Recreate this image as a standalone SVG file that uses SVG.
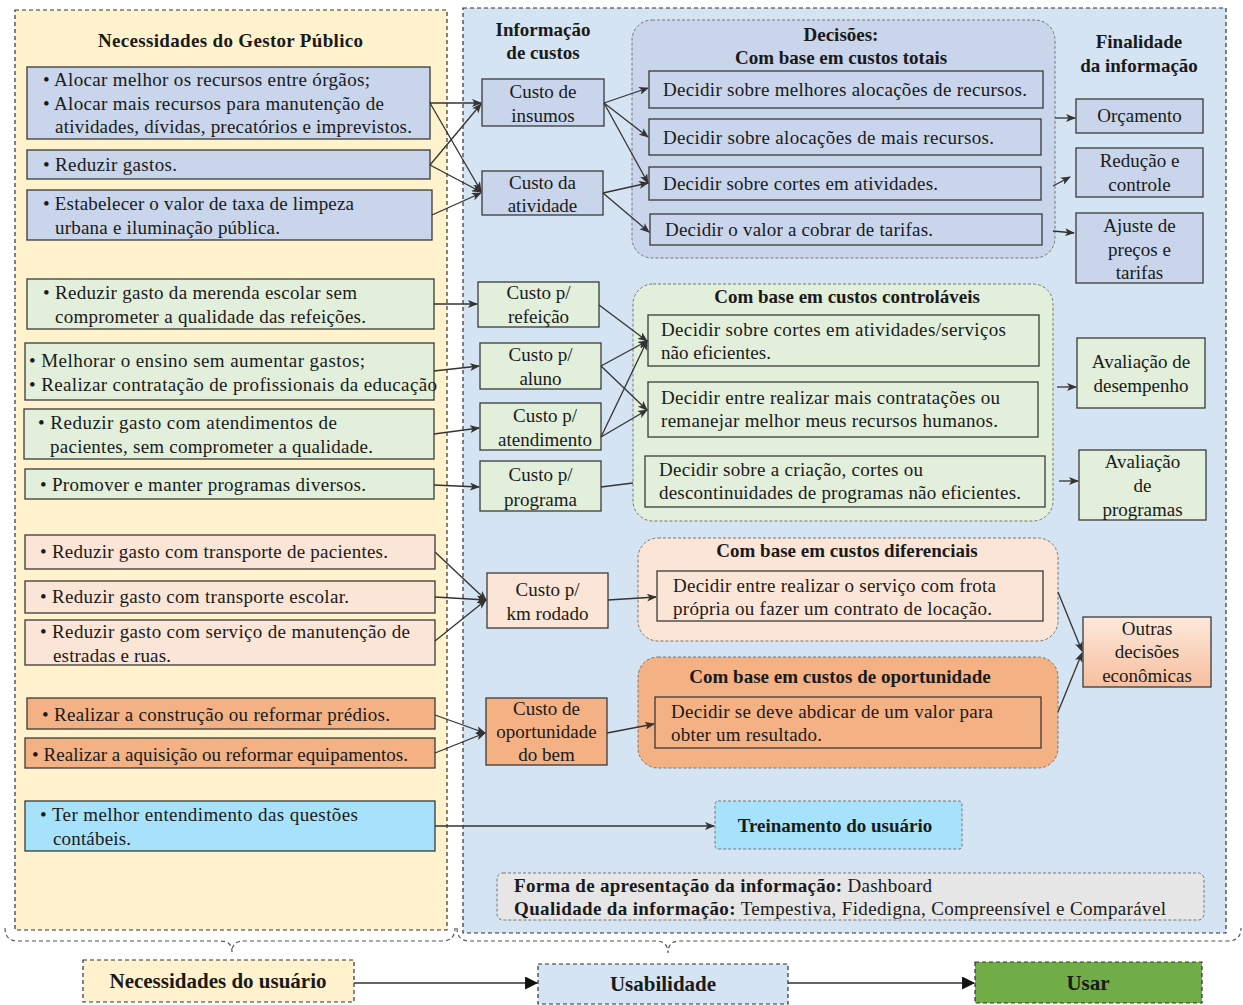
<svg xmlns="http://www.w3.org/2000/svg" width="1243" height="1005" viewBox="0 0 1243 1005">
  <defs>
    <marker id="arr" viewBox="0 0 10 8" refX="9" refY="4" markerWidth="10" markerHeight="8" markerUnits="userSpaceOnUse" orient="auto">
      <path d="M0,0 L10,4 L0,8 L2.5,4 z" fill="#333"/>
    </marker>
    <marker id="arrBig" viewBox="0 0 12 12" refX="11" refY="6" markerWidth="13" markerHeight="13" markerUnits="userSpaceOnUse" orient="auto">
      <path d="M0,0 L12,6 L0,12 z" fill="#111"/>
    </marker>
    <linearGradient id="peachGrad" x1="0" y1="0" x2="0" y2="1">
      <stop offset="0" stop-color="#fde9dc"/>
      <stop offset="1" stop-color="#f6bf9e"/>
    </linearGradient>
  </defs>
  <style>
    text { font-family: "Liberation Serif", "Times New Roman", serif; font-size: 19px; fill: #1a1a1a; }
    .b { font-weight: bold; }
    .c { text-anchor: middle; }
    .big { font-size: 21px; font-weight: bold; }
    .box { stroke: #3a3a3a; stroke-width: 1.3; }
    .blue { fill: #c8d5ea; }
    .green { fill: #e2efda; }
    .peach { fill: #fbe5d6; }
    .orange { fill: #f4b183; }
    .cyan { fill: #a6e3fa; }
    .grp { stroke: #777; stroke-width: 1; stroke-dasharray: 3 2; }
    .panel { stroke: #333; stroke-width: 1.2; stroke-dasharray: 4 3; }
    .ln { fill: none; stroke: #333; stroke-width: 1.3; }
    .brace { fill: none; stroke: #555; stroke-width: 1.2; stroke-dasharray: 4 3; }
  </style>

  <!-- Panels -->
  <g id="panel-necessidades">
    <rect x="15" y="10" width="432" height="920" fill="#fff2cc" class="panel"/>
    <text x="98" y="47" class="b" textLength="265">Necessidades do Gestor Público</text>
  </g>
  <g id="panel-usabilidade">
    <rect x="463" y="8" width="763" height="925" fill="#d5e4f2" class="panel"/>
    <text x="543" y="36" class="b c">Informação</text>
    <text x="543" y="59" class="b c">de custos</text>
    <text x="1139" y="48" class="b c">Finalidade</text>
    <text x="1139" y="72" class="b c">da informação</text>
  </g>

  <!-- User needs -->
  <g id="need-alocar">
    <rect x="27" y="67" width="403" height="72" class="box blue"/>
    <text x="43" y="86" textLength="327">• Alocar melhor os recursos entre órgãos;</text>
    <text x="43" y="110" textLength="341">• Alocar mais recursos para manutenção de</text>
    <text x="55" y="133" textLength="357">atividades, dívidas, precatórios e imprevistos.</text>
  </g>
  <g id="need-reduzir">
    <rect x="27" y="150" width="403" height="29" class="box blue"/>
    <text x="43" y="171" textLength="134">• Reduzir gastos.</text>
  </g>
  <g id="need-taxa">
    <rect x="27" y="190" width="405" height="50" class="box blue"/>
    <text x="43" y="210" textLength="311">• Estabelecer o valor de taxa de limpeza</text>
    <text x="55" y="234" textLength="225">urbana e iluminação pública.</text>
  </g>
  <g id="need-merenda">
    <rect x="27" y="279" width="407" height="50" class="box green"/>
    <text x="43" y="299" textLength="314">• Reduzir gasto da merenda escolar sem</text>
    <text x="55" y="323" textLength="311">comprometer a qualidade das refeições.</text>
  </g>
  <g id="need-ensino">
    <rect x="25" y="343" width="409" height="57" class="box green"/>
    <text x="29" y="367" textLength="336">• Melhorar o ensino sem aumentar gastos;</text>
    <text x="29" y="391" textLength="408">• Realizar contratação de profissionais da educação</text>
  </g>
  <g id="need-atendimento">
    <rect x="24" y="409" width="410" height="50" class="box green"/>
    <text x="38" y="429" textLength="299">•  Reduzir gasto com atendimentos de</text>
    <text x="50" y="453" textLength="323">pacientes, sem comprometer a qualidade.</text>
  </g>
  <g id="need-programas">
    <rect x="25" y="469" width="409" height="30" class="box green"/>
    <text x="40" y="491" textLength="326">• Promover e manter programas diversos.</text>
  </g>
  <g id="need-transp-pacientes">
    <rect x="25" y="535" width="410" height="34" class="box peach"/>
    <text x="40" y="558" textLength="348">• Reduzir gasto com transporte de pacientes.</text>
  </g>
  <g id="need-transp-escolar">
    <rect x="25" y="581" width="410" height="32" class="box peach"/>
    <text x="40" y="603" textLength="309">• Reduzir gasto com transporte escolar.</text>
  </g>
  <g id="need-estradas">
    <rect x="25" y="620" width="410" height="45" class="box peach"/>
    <text x="40" y="638" textLength="370">• Reduzir gasto com serviço de manutenção de</text>
    <text x="53" y="662" textLength="118">estradas e ruas.</text>
  </g>
  <g id="need-predios">
    <rect x="27" y="698" width="408" height="31" class="box orange"/>
    <text x="42" y="721" textLength="348">• Realizar  a construção ou reformar prédios.</text>
  </g>
  <g id="need-equipamentos">
    <rect x="25" y="738" width="410" height="30" class="box orange"/>
    <text x="32" y="761" textLength="376">• Realizar  a aquisição ou reformar equipamentos.</text>
  </g>
  <g id="need-contabeis">
    <rect x="25" y="801" width="410" height="50" class="box cyan"/>
    <text x="40" y="821" textLength="318">• Ter melhor entendimento das questões</text>
    <text x="53" y="845" textLength="78">contábeis.</text>
  </g>

  <!-- Cost information -->
  <g id="cost-insumos">
    <rect x="482" y="79" width="122" height="47" class="box blue"/>
    <text x="543" y="98" class="c">Custo de</text>
    <text x="543" y="122" class="c">insumos</text>
  </g>
  <g id="cost-atividade">
    <rect x="482" y="171" width="121" height="44" class="box blue"/>
    <text x="542.5" y="189" class="c">Custo da</text>
    <text x="542.5" y="212" class="c">atividade</text>
  </g>
  <g id="cost-refeicao">
    <rect x="478" y="282" width="121" height="45" class="box green"/>
    <text x="538.5" y="299" class="c">Custo p/</text>
    <text x="538.5" y="323" class="c">refeição</text>
  </g>
  <g id="cost-aluno">
    <rect x="480" y="343" width="121" height="46" class="box green"/>
    <text x="540.5" y="361" class="c">Custo p/</text>
    <text x="540.5" y="385" class="c">aluno</text>
  </g>
  <g id="cost-atendimento">
    <rect x="480" y="403" width="121" height="47" class="box green"/>
    <text x="545" y="422" class="c">Custo p/</text>
    <text x="545" y="446" class="c">atendimento</text>
  </g>
  <g id="cost-programa">
    <rect x="480" y="461" width="121" height="50" class="box green"/>
    <text x="540.5" y="481" class="c">Custo p/</text>
    <text x="540.5" y="506" class="c">programa</text>
  </g>
  <g id="cost-km">
    <rect x="487" y="573" width="121" height="55" class="box peach"/>
    <text x="547.5" y="596" class="c">Custo p/</text>
    <text x="547.5" y="620" class="c">km rodado</text>
  </g>
  <g id="cost-oportunidade">
    <rect x="486" y="698" width="121" height="67" class="box orange"/>
    <text x="546.5" y="715" class="c">Custo de</text>
    <text x="546.5" y="738" class="c">oportunidade</text>
    <text x="546.5" y="761" class="c">do bem</text>
  </g>

  <!-- Decisions: total costs -->
  <g id="dec-totais">
    <rect x="632" y="20" width="423" height="238" rx="20" fill="#c8d5ea" class="grp"/>
    <text x="841" y="41" class="b c">Decisões:</text>
    <text x="841" y="64" class="b c">Com base em custos totais</text>
    <rect x="649" y="71" width="394" height="37" class="box blue"/>
    <text x="663" y="96" textLength="364">Decidir  sobre melhores alocações de recursos.</text>
    <rect x="649" y="119" width="392" height="36" class="box blue"/>
    <text x="663" y="144" textLength="331">Decidir  sobre alocações de mais recursos.</text>
    <rect x="649" y="167" width="392" height="33" class="box blue"/>
    <text x="663" y="190" textLength="275">Decidir  sobre cortes em atividades.</text>
    <rect x="650" y="214" width="392" height="31" class="box blue"/>
    <text x="665" y="236" textLength="268">Decidir  o valor a cobrar de tarifas.</text>
  </g>

  <!-- Decisions: controllable costs -->
  <g id="dec-controlaveis">
    <rect x="633" y="284" width="420" height="237" rx="20" fill="#e2efda" class="grp"/>
    <text x="847" y="303" class="b c">Com base em custos controláveis</text>
    <rect x="648" y="315" width="391" height="51" class="box green"/>
    <text x="661" y="336" textLength="345">Decidir  sobre cortes em  atividades/serviços</text>
    <text x="661" y="359" textLength="110">não eficientes.</text>
    <rect x="648" y="382" width="390" height="55" class="box green"/>
    <text x="661" y="404" textLength="339">Decidir  entre realizar  mais contratações ou</text>
    <text x="661" y="427" textLength="337">remanejar  melhor meus recursos humanos.</text>
    <rect x="645" y="456" width="400" height="51" class="box green"/>
    <text x="659" y="476" textLength="264">Decidir  sobre a criação, cortes ou</text>
    <text x="659" y="499" textLength="362">descontinuidades de programas não eficientes.</text>
  </g>

  <!-- Decisions: differential costs -->
  <g id="dec-diferenciais">
    <rect x="638" y="538" width="420" height="103" rx="20" fill="#fbe5d6" class="grp"/>
    <text x="847" y="557" class="b c">Com base em custos diferenciais</text>
    <rect x="657" y="571" width="386" height="50" class="box peach"/>
    <text x="673" y="592" textLength="323">Decidir  entre realizar  o serviço com frota</text>
    <text x="673" y="615" textLength="319">própria ou fazer um contrato de locação.</text>
  </g>

  <!-- Decisions: opportunity costs -->
  <g id="dec-oportunidade">
    <rect x="638" y="657" width="420" height="111" rx="20" fill="#f4b183" class="grp"/>
    <text x="840" y="683" class="b c">Com base em custos de oportunidade</text>
    <rect x="655" y="697" width="386" height="51" class="box orange"/>
    <text x="671" y="718" textLength="322">Decidir  se deve abdicar de um valor  para</text>
    <text x="671" y="741" textLength="151">obter um resultado.</text>
  </g>

  <!-- Purposes -->
  <g id="fin-orcamento">
    <rect x="1076" y="99" width="127" height="34" class="box blue"/>
    <text x="1139.5" y="122" class="c">Orçamento</text>
  </g>
  <g id="fin-reducao">
    <rect x="1076" y="148" width="127" height="49" class="box blue"/>
    <text x="1139.5" y="167" class="c">Redução e</text>
    <text x="1139.5" y="191" class="c">controle</text>
  </g>
  <g id="fin-ajuste">
    <rect x="1076" y="213" width="127" height="70" class="box blue"/>
    <text x="1139.5" y="232" class="c">Ajuste  de</text>
    <text x="1139.5" y="256" class="c">preços e</text>
    <text x="1139.5" y="279" class="c">tarifas</text>
  </g>
  <g id="fin-desempenho">
    <rect x="1077" y="338" width="128" height="70" class="box green"/>
    <text x="1141" y="368" class="c">Avaliação  de</text>
    <text x="1141" y="392" class="c">desempenho</text>
  </g>
  <g id="fin-programas">
    <rect x="1079" y="450" width="127" height="70" class="box green"/>
    <text x="1142.5" y="468" class="c">Avaliação</text>
    <text x="1142.5" y="492" class="c">de</text>
    <text x="1142.5" y="516" class="c">programas</text>
  </g>
  <g id="fin-outras">
    <rect x="1083" y="617" width="128" height="70" fill="url(#peachGrad)" class="box"/>
    <text x="1147" y="635" class="c">Outras</text>
    <text x="1147" y="658" class="c">decisões</text>
    <text x="1147" y="682" class="c">econômicas</text>
  </g>

  <!-- Training and presentation -->
  <g id="treinamento">
    <rect x="715" y="801" width="247" height="48" rx="3" fill="#a6e3fa" class="grp"/>
    <text x="835" y="832" class="b c">Treinamento do usuário</text>
  </g>
  <g id="apresentacao">
    <rect x="497" y="873" width="707" height="47" rx="6" fill="#e6e6e6" class="grp"/>
    <text x="514" y="892" textLength="418"><tspan class="b">Forma de apresentação da informação:</tspan> Dashboard</text>
    <text x="514" y="915" textLength="652"><tspan class="b">Qualidade da informação:</tspan>  Tempestiva, Fidedigna, Compreensível e Comparável</text>
  </g>

  <!-- Bottom flow -->
  <g id="braces">
    <path class="brace" d="M5,928 Q5,941 18,941 L220,941 Q232,941 232,952 Q232,941 244,941 L442,941 Q455,941 455,928"/>
    <path class="brace" d="M457,928 Q457,941 470,941 L656,941 Q668,941 668,953 Q668,941 680,941 L1228,941 Q1241,941 1241,928"/>
  </g>
  <g id="flow-necessidades">
    <rect x="83" y="960" width="271" height="42" fill="#fff2cc" class="panel"/>
    <text x="218" y="988" class="big c">Necessidades do usuário</text>
  </g>
  <g id="flow-usabilidade">
    <rect x="538" y="964" width="250" height="40" fill="#d5e4f2" class="panel"/>
    <text x="663" y="991" class="big c">Usabilidade</text>
  </g>
  <g id="flow-usar">
    <rect x="975" y="962" width="227" height="41" fill="#70ad47" class="panel"/>
    <text x="1088" y="990" class="big c">Usar</text>
  </g>

  <!-- Connectors -->
  <g id="connectors">
    <!-- needs to cost information -->
    <line x1="430" y1="103" x2="481" y2="103" class="ln" marker-end="url(#arr)"/>
    <line x1="430" y1="103" x2="481" y2="191" class="ln" marker-end="url(#arr)"/>
    <line x1="430" y1="165" x2="481" y2="104" class="ln" marker-end="url(#arr)"/>
    <line x1="430" y1="165" x2="481" y2="192" class="ln" marker-end="url(#arr)"/>
    <line x1="432" y1="215" x2="481" y2="193" class="ln" marker-end="url(#arr)"/>
    <line x1="434" y1="304" x2="477" y2="304" class="ln" marker-end="url(#arr)"/>
    <line x1="434" y1="371" x2="479" y2="366" class="ln" marker-end="url(#arr)"/>
    <line x1="434" y1="434" x2="479" y2="428" class="ln" marker-end="url(#arr)"/>
    <line x1="434" y1="485" x2="479" y2="487" class="ln" marker-end="url(#arr)"/>
    <line x1="435" y1="552" x2="486" y2="600" class="ln" marker-end="url(#arr)"/>
    <line x1="435" y1="597" x2="486" y2="600" class="ln" marker-end="url(#arr)"/>
    <line x1="435" y1="641" x2="486" y2="600" class="ln" marker-end="url(#arr)"/>
    <line x1="435" y1="715" x2="485" y2="733" class="ln" marker-end="url(#arr)"/>
    <line x1="435" y1="753" x2="485" y2="733" class="ln" marker-end="url(#arr)"/>
    <line x1="435" y1="826" x2="714" y2="826" class="ln" marker-end="url(#arr)"/>

    <!-- cost information to decisions -->
    <line x1="604" y1="103" x2="648" y2="88" class="ln" marker-end="url(#arr)"/>
    <line x1="604" y1="103" x2="648" y2="137" class="ln" marker-end="url(#arr)"/>
    <line x1="604" y1="103" x2="648" y2="183" class="ln" marker-end="url(#arr)" stroke-width="1.8"/>
    <line x1="603" y1="193" x2="648" y2="183" class="ln" marker-end="url(#arr)"/>
    <line x1="603" y1="193" x2="649" y2="232" class="ln" marker-end="url(#arr)"/>
    <line x1="599" y1="305" x2="647" y2="341" class="ln" marker-end="url(#arr)"/>
    <line x1="601" y1="366" x2="647" y2="341" class="ln" marker-end="url(#arr)"/>
    <line x1="601" y1="366" x2="647" y2="410" class="ln" marker-end="url(#arr)"/>
    <line x1="601" y1="437" x2="647" y2="341" class="ln" marker-end="url(#arr)"/>
    <line x1="601" y1="437" x2="647" y2="410" class="ln" marker-end="url(#arr)"/>
    <line x1="601" y1="487" x2="633" y2="483" class="ln"/>
    <line x1="608" y1="600" x2="656" y2="597" class="ln" marker-end="url(#arr)"/>
    <line x1="607" y1="733" x2="654" y2="724" class="ln" marker-end="url(#arr)"/>

    <!-- decisions to purposes -->
    <line x1="1055" y1="118" x2="1075" y2="118" class="ln" marker-end="url(#arr)"/>
    <line x1="1053" y1="186" x2="1070" y2="177" class="ln" marker-end="url(#arr)"/>
    <line x1="1053" y1="231" x2="1074" y2="233" class="ln" marker-end="url(#arr)"/>
    <line x1="1057" y1="387" x2="1076" y2="387" class="ln" marker-end="url(#arr)"/>
    <line x1="1059" y1="481" x2="1078" y2="481" class="ln" marker-end="url(#arr)"/>
    <line x1="1058" y1="592" x2="1082" y2="651" class="ln" marker-end="url(#arr)"/>
    <line x1="1058" y1="712" x2="1082" y2="653" class="ln" marker-end="url(#arr)"/>

    <!-- bottom flow -->
    <line x1="354" y1="983" x2="537" y2="983" class="ln" stroke="#111" marker-end="url(#arrBig)"/>
    <line x1="788" y1="983" x2="974" y2="983" class="ln" stroke="#111" marker-end="url(#arrBig)"/>
  </g>
</svg>
